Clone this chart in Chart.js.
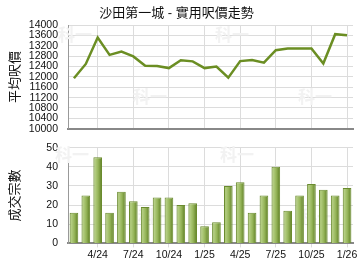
<!DOCTYPE html>
<html>
<head>
<meta charset="utf-8">
<script src="https://cdn.jsdelivr.net/npm/chart.js@4"></script>
<style>
  body { margin: 0; background: #fff; }
  #wrap { position: relative; width: 360px; height: 270px; }
  #precoChart { position: absolute; left: 0; top: 0; }
  #vendasChart { position: absolute; left: 0; top: 135px; }
</style>
</head>
<body>
<div id="wrap">
  <canvas id="precoChart" width="360" height="135"></canvas>
  <canvas id="vendasChart" width="360" height="135"></canvas>
</div>
<script>
// Meses (2/24 a 1/26) - só alguns têm rótulo
const meses = ['', '', '4/24', '', '', '7/24', '', '', '10/24', '', '', '1/25',
               '', '', '4/25', '', '', '7/25', '', '', '10/25', '', '', '1/26'];
// Preço médio por pé quadrado
const precoMedio = [11950, 12500, 13520, 12850, 12980, 12790, 12430, 12420, 12340, 12640, 12600, 12340,
                    12400, 11970, 12610, 12650, 12550, 13030, 13100, 13100, 13100, 12520, 13650, 13610];
// Número de transações
const transacoes = [16, 25, 45, 16, 27, 22, 19, 24, 24, 20, 21, 9,
                    11, 30, 32, 16, 25, 40, 17, 25, 31, 28, 25, 29];
const ticksPreco = [10000, 14000, 400];
const ticksVendas = [0, 50, 10];

const fonte = '"Liberation Sans", Arial, "Noto Sans CJK TC", sans-serif';
Chart.defaults.font.family = fonte;
Chart.defaults.color = '#111';
Chart.defaults.animation = false;

// Cor das linhas verticais: só onde há rótulo
function corGradeX(ctx) {
    const i = ctx.tick ? ctx.tick.value : ctx.index;
    return meses[i] ? '#dcdcdc' : 'rgba(0,0,0,0)';
}

// Marca d'água "科一" bem clara
function marcaDagua(pontos) {
    return {
        id: 'marca',
        beforeDatasetsDraw(chart) {
            const c = chart.ctx;
            c.save();
            c.fillStyle = '#f2f2f2';
            c.font = 'bold 17px "Noto Sans CJK TC"';
            c.textAlign = 'center';
            c.textBaseline = 'middle';
            pontos.forEach(p => c.fillText('科一', p[0], p[1]));
            c.restore();
        }
    };
}

// Gradiente horizontal para cada barra
function corBarra(ctx) {
    const chart = ctx.chart;
    const xs = chart.scales && chart.scales.x;
    if (!xs || ctx.dataIndex === undefined) return '#8fae52';
    const cx = xs.getPixelForValue(ctx.dataIndex);
    if (!isFinite(cx)) return '#8fae52';
    const w = 8.7;
    const g = chart.ctx.createLinearGradient(cx - w / 2, 0, cx + w / 2, 0);
    g.addColorStop(0, '#7b9a3c');
    g.addColorStop(0.2, '#b4ce82');
    g.addColorStop(0.55, '#96b55a');
    g.addColorStop(1, '#5c7d22');
    return g;
}

// Eixo Y com largura fixa (o espaço até os rótulos fica no tickLength invisível)
const eixoY = (min, max, passo, titulo) => ({
    min: min, max: max,
    afterFit: s => { s.width = 68; },
    afterBuildTicks: s => {
        s.ticks = [];
        for (let v = min; v <= max; v += passo) s.ticks.push({ value: v });
    },
    ticks: { autoSkip: false, padding: 0, font: { size: 10.5 }, color: '#111', callback: v => String(v) },
    grid: { color: '#dcdcdc', drawTicks: true, tickLength: 10, tickColor: 'rgba(0,0,0,0)' },
    border: { color: '#999', width: 1 },
    title: { display: true, text: titulo, font: { size: 13 }, color: '#111', padding: { top: 8, bottom: 0 } }
});

// Gráfico de preço
new Chart(document.getElementById('precoChart'), {
    type: 'line',
    data: {
        labels: meses,
        datasets: [{
            data: precoMedio,
            borderColor: '#6b8e23',
            borderWidth: 2.5,
            pointRadius: 0,
            tension: 0,
            fill: false
        }]
    },
    options: {
        responsive: false,
        layout: { padding: { left: 0, right: 7, top: 0, bottom: 0 } },
        plugins: {
            legend: { display: false },
            tooltip: { enabled: false },
            title: {
                display: true,
                text: '沙田第一城 - 實用呎價走勢',
                font: { size: 13, weight: 'normal' },
                color: '#111',
                padding: { top: 6, bottom: 3.5 }
            }
        },
        scales: {
            x: {
                offset: true,
                afterFit: s => { s.height = 0; },
                ticks: { display: false, autoSkip: false },
                grid: { offset: false, color: corGradeX, drawTicks: false },
                border: { color: '#888', width: 2 }
            },
            y: eixoY(ticksPreco[0], ticksPreco[1], ticksPreco[2], '平均呎價')
        }
    },
    plugins: [marcaDagua([[75, 35], [232, 35], [150, 97], [315, 97]])]
});

// Gráfico de transações
new Chart(document.getElementById('vendasChart'), {
    type: 'bar',
    data: {
        labels: meses,
        datasets: [{
            data: transacoes,
            backgroundColor: corBarra,
            borderColor: '#6a8b2e',
            borderWidth: 1,
            borderSkipped: 'bottom',
            barPercentage: 0.73,
            categoryPercentage: 1
        }]
    },
    options: {
        responsive: false,
        layout: { padding: { left: 0, right: 7, top: 12.7, bottom: 8 } },
        plugins: {
            legend: { display: false },
            tooltip: { enabled: false }
        },
        scales: {
            x: {
                ticks: { autoSkip: false, maxRotation: 0, padding: 1, font: { size: 10.5 }, color: '#111' },
                grid: { offset: false, color: corGradeX, tickLength: 4 },
                border: { color: '#888', width: 2 }
            },
            y: eixoY(ticksVendas[0], ticksVendas[1], ticksVendas[2], '成交宗數')
        }
    },
    plugins: [marcaDagua([[72, 20], [237, 20], [155, 82], [317, 82]])]
});
</script>
</body>
</html>
